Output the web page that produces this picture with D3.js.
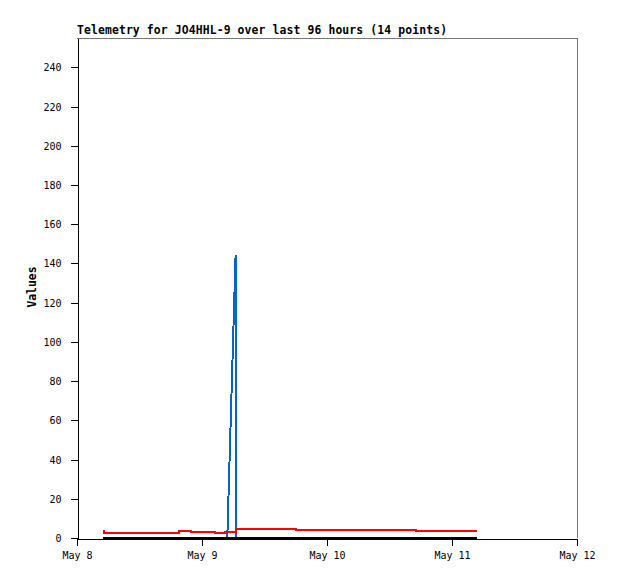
<!DOCTYPE html>
<html>
<head>
<meta charset="utf-8">
<script src="https://cdn.jsdelivr.net/npm/d3@7"></script>
<style>
  body { margin: 0; background: #fff; }
  svg { display: block; }
  .axis text { font-family: "DejaVu Sans Mono", monospace; font-size: 10px; fill: #000; }
  .axis path, .axis line { stroke: #000; shape-rendering: crispEdges; }
  .title, .ylabel { font-family: "DejaVu Sans Mono", monospace; font-size: 11.4px; font-weight: bold; fill: #000; }
</style>
</head>
<body>
<div id="chart"></div>
<script>
// hours after May 8 00:00 (UTC) of each telemetry sample
var hours = [4.9, 5.2, 19.5, 21.9, 26.5, 28.4, 28.85, 30.45, 30.5, 42.0, 65.1, 76.8]
var redValues = [3.6, 2.6, 3.6, 3.1, 2.6, 3.2, 3.2, 3.2, 4.7, 4.3, 3.8, 3.8]
var blueValues = [0, 0, 0, 0, 0, 0, 0, 144.5, 0, 0, 0, 0]
var blackValues = [0, 0, 0, 0, 0, 0, 0, 0, 0, 0, 0, 0]
var yTicks = [0, 20, 40, 60, 80, 100, 120, 140, 160, 180, 200, 220, 240]
var dayTicks = ["2024-05-08", "2024-05-09", "2024-05-10", "2024-05-11", "2024-05-12"]
var titleText = "Telemetry for JO4HHL-9 over last 96 hours (14 points)"

var width = 618, height = 579
var margin = { top: 38, right: 41, bottom: 41, left: 77 }
var start = new Date(Date.UTC(2024, 4, 8))

var svg = d3.select("#chart")
  .append("svg")
    .attr("width", width)
    .attr("height", height)

var x = d3.scaleUtc()
  .domain([start, new Date(Date.UTC(2024, 4, 12))])
  .range([margin.left, width - margin.right])

var y = d3.scaleLinear()
  .domain([0, 255])
  .range([height - margin.bottom, margin.top])

var points = hours.map(function(h, i) {
  return {
    t: new Date(start.getTime() + h * 3600 * 1000),
    red: redValues[i],
    blue: blueValues[i],
    black: blackValues[i]
  }
})

// frame: light top and right edges
svg.append("path")
  .attr("d", "M" + (x.range()[0]) + "," + (y(255) + 0.5) + "H" + (x.range()[1] + 0.5) + "V" + y(0))
  .attr("fill", "none")
  .attr("stroke", "#777")
  .attr("shape-rendering", "crispEdges")

// title
svg.append("text")
  .attr("class", "title")
  .attr("x", margin.left)
  .attr("y", 34)
  .attr("textLength", 370)
  .attr("lengthAdjust", "spacing")
  .text(titleText)

// y label
svg.append("text")
  .attr("class", "ylabel")
  .attr("transform", "translate(36," + (y(128)) + ") rotate(-90)")
  .attr("text-anchor", "middle")
  .text("Values")

// axes
svg.append("g")
  .attr("class", "axis")
  .attr("transform", "translate(" + (margin.left + 0.5) + ",0)")
  .call(d3.axisLeft(y).tickValues(yTicks).tickSize(7).tickPadding(9).tickSizeOuter(0))
  .call(function(g) { g.selectAll("text").attr("dy", "0.35em") })

svg.append("g")
  .attr("class", "axis")
  .attr("transform", "translate(0," + (y(0) + 0.5) + ")")
  .call(d3.axisBottom(x)
    .tickValues(dayTicks.map(function(d) { return new Date(d + "T00:00:00Z") }))
    .tickFormat(d3.utcFormat("%b %-d"))
    .tickSize(7).tickPadding(6).tickSizeOuter(0))

// series
function seriesLine(key, curve) {
  return d3.line()
    .curve(curve)
    .x(function(d) { return x(d.t) })
    .y(function(d) { return y(d[key]) })
}

svg.append("path")
  .datum(points)
  .attr("d", seriesLine("blue", d3.curveLinear))
  .attr("fill", "none")
  .attr("stroke", "#0066cc")
  .attr("stroke-width", 2)
  .attr("shape-rendering", "crispEdges")

svg.append("path")
  .datum(points)
  .attr("d", seriesLine("red", d3.curveStepAfter))
  .attr("fill", "none")
  .attr("stroke", "#ff0000")
  .attr("stroke-width", 2)
  .attr("shape-rendering", "crispEdges")

svg.append("path")
  .datum(points)
  .attr("d", seriesLine("black", d3.curveStepAfter))
  .attr("fill", "none")
  .attr("stroke", "#000")
  .attr("stroke-width", 2)
  .attr("shape-rendering", "crispEdges")
</script>
</body>
</html>
